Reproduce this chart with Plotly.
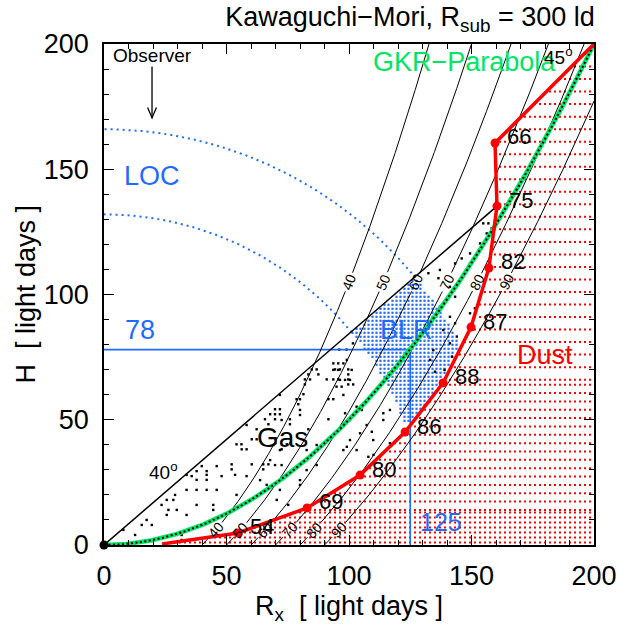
import numpy as np
import plotly.graph_objects as go

FONT = "Liberation Sans, Arial, Helvetica, sans-serif"
BLUE = "#1f6bff"
GREEN = "#00e664"
RED = "#ff0000"

# ---- axes ----
major_ticks = [0, 50, 100, 150, 200]
major_labels = ["0", "50", "100", "150", "200"]
minor_ticks = list(range(0, 201, 10))

# ---- dust sublimation surface (R_x, H in light days) with delays in days ----
node_R = [54.7, 82.9, 104.5, 122.9, 138.4, 149.8, 157.1, 160.4, 159.6]
node_H = [4.8, 14.8, 27.9, 45.1, 64.7, 87.0, 110.6, 135.3, 160.5]
node_delay = ["54", "69", "80", "86", "88", "87", "82", "75", "66"]
dust_start = [23.7, 0.4]
dust_end = [200.0, 200.0]

# ---- model surfaces ----
iso_delays = [40, 50, 60, 70, 80, 90]     # isodelay paraboloids (days)
loc_radii = [132.0, 166.0]               # LOC shell radii (ld)
cone_angle = 40.0                        # opening angle of the gas cone (deg)
gkr_scale = 200.0                        # GKR parabola: H = R^2 / gkr_scale
blr_H = 78
blr_R = 125

# ---- gas clouds (R_x, H) ----
gas_R = [84.8, 86.8, 94.3, 96.3, 99.7, 83.4, 87.5, 99.7, 82.0, 84.1, 90.9, 93.6, 95.6, 99.7,
         82.0, 99.7, 101.7, 81.4, 78.6, 80.0, 91.6, 93.6, 79.3, 71.8, 69.8, 71.8, 67.8, 69.8,
         71.8, 65.7, 69.8, 75.9, 91.6, 67.1, 75.9, 62.3, 83.4, 60.3, 62.3, 54.1, 56.1, 74.6,
         56.2, 58.2, 72.5, 52.1, 60.3, 65.0, 67.1, 39.9, 46.0, 52.1, 65.0, 37.8, 41.9, 35.8,
         48.0, 58.2,
         12.7, 7.9, 15.4, 17.4, 19.5, 31.7, 31.7, 34.3, 25.6, 28.3, 23.5, 26.3, 29.7, 25.6,
         33.7, 29.0, 37.8, 44.6, 44.6, 33.7, 37.8, 41.9, 46.0, 54.1, 33.7, 41.9, 37.8, 41.9,
         53.5, 58.2, 80.0, 80.0, 72.5,
         69.1, 71.8, 67.8, 69.8, 72.5, 63.7, 66.4, 71.8, 70.5, 75.2, 80.0, 80.0, 82.7, 86.8,
         82.7, 86.8, 100.4, 97.7,
         154.8, 156.9, 158.2, 156.2, 156.2, 153.5, 154.2, 149.4, 151.4, 146.0, 143.3, 149.4,
         137.1, 132.4, 136.5, 141.2, 143.3, 137.1, 151.4, 149.4, 141.2, 143.3, 138.5, 144.0,
         134.4, 141.2, 99.1, 101.1, 142.0, 133.1, 135.1,
         93.6, 95.6, 97.7, 93.6, 95.6, 96.3, 98.4, 100.4, 94.9, 97.0, 103.1, 105.2, 139.0,
         97.7, 98.4, 100.4, 107.2, 109.3, 114.0, 114.0, 116.7, 104.5, 109.9, 116.7, 99.1,
         103.1, 107.9, 110.0, 96.0, 99.0, 101.6]
gas_H = [70.1, 70.1, 70.1, 70.1, 70.1, 68.1, 68.1, 68.1, 66.1, 66.1, 66.1, 66.1, 66.1, 66.1,
         64.1, 64.1, 64.1, 60.2, 58.2, 58.2, 58.2, 58.2, 56.2, 59.9, 54.2, 54.2, 52.2, 52.2,
         52.2, 50.2, 50.2, 50.2, 50.2, 48.2, 48.2, 46.2, 46.2, 42.2, 42.2, 40.2, 40.2, 40.2,
         38.2, 38.2, 38.2, 32.2, 32.2, 32.2, 32.2, 31.5, 31.5, 30.2, 30.2, 29.5, 29.5, 27.5,
         27.5, 27.5,
         4.0, 6.0, 8.0, 10.0, 8.0, 4.0, 2.0, 2.0, 18.0, 18.0, 16.0, 14.0, 14.0, 12.0,
         12.0, 20.0, 16.0, 16.0, 14.0, 22.0, 22.0, 22.0, 22.0, 20.0, 28.0, 28.0, 26.0, 26.0,
         28.0, 47.9, 53.9, 51.9, 49.9,
         39.9, 37.9, 33.9, 31.9, 31.9, 25.9, 24.0, 22.0, 18.0, 16.0, 25.9, 24.0, 29.9, 31.9,
         37.9, 39.9, 41.9, 37.9,
         128.4, 128.4, 126.4, 124.4, 122.4, 120.4, 118.4, 116.4, 114.4, 114.4, 112.4, 112.4,
         109.8, 108.5, 106.5, 103.1, 99.1, 95.1, 94.5, 92.5, 91.1, 88.5, 85.8, 83.2,
         77.8, 80.5, 73.9, 69.9, 75.2, 73.9, 69.2,
         72.5, 72.5, 72.5, 69.9, 69.9, 65.9, 65.9, 65.9, 63.2, 63.2, 55.2, 53.9, 69.9,
         59.9, 52.6, 49.9, 47.9, 45.2, 52.6, 49.9, 53.9, 44.6, 41.9, 40.6, 39.2,
         37.9, 35.2, 36.0, 78.0, 78.0, 80.5]

# pixel size of one light day along each axis (plot area 490 x 501 px)
PX_R = 490.0 / 200.0
PX_H = 501.0 / 200.0

fig = go.Figure()

# ---- dust region: rows of red dots to the right of the sublimation surface ----
curve_R = [dust_start[0]] + node_R + [dust_end[0]]
curve_H = [dust_start[1]] + node_H + [dust_end[1]]
rows = np.concatenate([np.arange(1.0, 14.0, 2.0),
                       np.arange(14.0, 66.0, 10.0 / 3.0),
                       np.arange(66.0, 200.0, 5.0)])
step = 5.0 / PX_R
dx, dy = [], []
for h in rows:
    r0 = float(np.interp(h, curve_H, curve_R))
    r0 = np.ceil(r0 / step) * step
    dx += [r0, 201.0, None]
    dy += [h, h, None]
fig.add_trace(go.Scatter(x=dx, y=dy, mode="lines", hoverinfo="skip",
                         line=dict(color=RED, width=2, dash="2px,3px")))

# ---- BLR: part of the LOC shell inside the gas cone, bounded by the dust ----
# dotted texture on a regular 4 px grid, kept where it lies inside the region
node_theta = np.degrees(np.arctan2(node_H, node_R))
node_r = np.hypot(node_R, node_H)
gx, gy = np.meshgrid(np.arange(90.0, 170.0, 4.0 / PX_R), np.arange(40.0, 115.0, 4.0 / PX_H))
gx, gy = gx.ravel(), gy.ravel()
g_th = np.degrees(np.arctan2(gy, gx))
g_r = np.hypot(gx, gy)
r_lim = np.minimum(loc_radii[1], np.interp(g_th, node_theta, node_r) - 2.0)
inside = (g_r >= loc_radii[0]) & (g_r <= r_lim) & (g_th <= cone_angle)
fig.add_trace(go.Scatter(x=gx[inside], y=gy[inside], mode="markers", hoverinfo="skip",
                         marker=dict(symbol="square", size=2.2, color=BLUE,
                                     line=dict(width=0))))

# ---- gas clouds ----
fig.add_trace(go.Scatter(x=gas_R, y=gas_H, mode="markers", hoverinfo="skip",
                         marker=dict(symbol="square", size=2.4, color="black",
                                     line=dict(width=0))))

# ---- LOC shells ----
ta = np.radians(np.linspace(cone_angle, 90.0, 200))
for rad in loc_radii:
    fig.add_trace(go.Scatter(x=rad * np.cos(ta), y=rad * np.sin(ta), mode="lines",
                             hoverinfo="skip",
                             line=dict(color=BLUE, width=2, dash="2px,4px")))

# ---- BLR size markers ----
fig.add_trace(go.Scatter(x=[0, blr_R, blr_R], y=[blr_H, blr_H, 0], mode="lines",
                         hoverinfo="skip", line=dict(color=BLUE, width=1.6)))

# ---- isodelay paraboloids with inline labels ----
iso_annots = []
for tau in iso_delays:
    r_top = min(200.0, np.sqrt(tau ** 2 + 2 * tau * 200.0))
    R = np.linspace(tau, r_top, 500)
    H = (R ** 2 - tau ** 2) / (2.0 * tau)
    gap = np.zeros(R.shape, dtype=bool)
    for hl in (6.0, 105.0):
        rl = np.sqrt(tau ** 2 + 2 * tau * hl)
        gap |= np.hypot((R - rl) * PX_R, (H - hl) * PX_H) < 9.5
        ang = np.degrees(np.arctan(rl / tau * PX_H / PX_R))
        iso_annots.append(dict(x=rl, y=hl, text=str(tau), textangle=-ang,
                               showarrow=False, font=dict(size=14, color="black"),
                               xanchor="center", yanchor="middle"))
    Hs = [None if g else float(v) for g, v in zip(gap, H)]
    fig.add_trace(go.Scatter(x=R, y=Hs, mode="lines", hoverinfo="skip",
                             connectgaps=False, line=dict(color="black", width=1)))

# ---- 40 degree cone boundary up to the dust surface ----
fig.add_trace(go.Scatter(x=[0, node_R[7]], y=[0, node_H[7]], mode="lines",
                         hoverinfo="skip", line=dict(color="black", width=1.5)))

# ---- GKR parabola ----
gR = np.linspace(0, 200, 400)
gH = gR ** 2 / gkr_scale
fig.add_trace(go.Scatter(x=gR, y=gH, mode="lines", hoverinfo="skip",
                         line=dict(color=GREEN, width=4.5)))
fig.add_trace(go.Scatter(x=gR, y=gH, mode="lines", hoverinfo="skip",
                         line=dict(color="black", width=2, dash="2px,2.5px")))

# ---- dust sublimation surface ----
fig.add_trace(go.Scatter(x=curve_R, y=curve_H, mode="lines", hoverinfo="skip",
                         line=dict(color=RED, width=3.5)))
fig.add_trace(go.Scatter(x=node_R, y=node_H, mode="markers", hoverinfo="skip",
                         marker=dict(color=RED, size=9)))

# ---- black hole at the origin ----
fig.add_trace(go.Scatter(x=[0], y=[0], mode="markers", cliponaxis=False,
                         hoverinfo="skip", marker=dict(color="black", size=9)))

annots = list(iso_annots)
for r, h, t in zip(node_R, node_H, node_delay):
    annots.append(dict(x=r, y=h, text=t, showarrow=False, xshift=24, yshift=6,
                       font=dict(size=22, color="black")))

labels = [
    ("LOC", 19.5, 147.2, BLUE, 27),
    ("78", 14.7, 85.8, BLUE, 27),
    ("125", 137.5, 9.0, BLUE, 25),
    ("BLR", 123.5, 85.8, BLUE, 27),
    ("Dust", 180.0, 75.8, RED, 27),
    ("Gas", 72.9, 42.8, "black", 28),
    ("GKR\u2212Parabola", 147.0, 192.9, GREEN, 27),
    ("Observer", 19.8, 195.3, "black", 19),
    ("40<sup>o</sup>", 24.1, 29.5, "black", 19),
    ("45<sup>o</sup>", 185.7, 195.2, "black", 19),
]
for t, x, y, c, s in labels:
    annots.append(dict(x=x, y=y, text=t, showarrow=False, xanchor="center",
                       yanchor="middle", font=dict(size=s, color=c)))

# vertical axis title
annots.append(dict(xref="paper", yref="paper", x=(25 - 104) / 490.0, y=0.5,
                   text="H\u00a0 [ light days ]", textangle=-90, showarrow=False,
                   xanchor="center", yanchor="middle",
                   font=dict(size=27, color="black")))

# observer arrow
shapes = [
    dict(type="line", x0=19.6, y0=191.0, x1=19.6, y1=170.5, line=dict(color="black", width=1.3)),
    dict(type="path", path="M 17.8,174.7 L 19.6,170.5 L 21.4,174.7",
         line=dict(color="black", width=1.3)),
]

axis_common = dict(range=[0, 200], tickmode="array", tickvals=major_ticks,
                   ticktext=major_labels, ticks="inside", ticklen=10, tickwidth=1.3,
                   tickcolor="black",
                   minor=dict(tickmode="array", tickvals=minor_ticks, ticks="inside",
                              ticklen=5, tickwidth=1.3, tickcolor="black"),
                   showline=True, linecolor="black", linewidth=1.5, mirror="ticks",
                   showgrid=False, zeroline=False, automargin=False,
                   tickfont=dict(size=27, color="black"))

fig.update_layout(
    width=618, height=626,
    margin=dict(l=104, r=24, t=44, b=81),
    paper_bgcolor="white", plot_bgcolor="white",
    showlegend=False,
    font=dict(family=FONT, color="black"),
    title=dict(text="Kawaguchi\u2212Mori, R<sub>sub</sub> = 300 ld",
               x=410 / 618, xref="container", xanchor="center",
               y=1 - 17 / 626, yref="container", yanchor="middle",
               font=dict(size=27, color="black")),
    xaxis=dict(axis_common, ticklabelstandoff=6,
               title=dict(text="R<sub>x</sub>\u00a0 [ light days ]", standoff=0,
                          font=dict(size=27, color="black"))),
    yaxis=dict(axis_common, ticklabelstandoff=8),
    annotations=annots,
    shapes=shapes,
)

fig.write_html("out.html")
